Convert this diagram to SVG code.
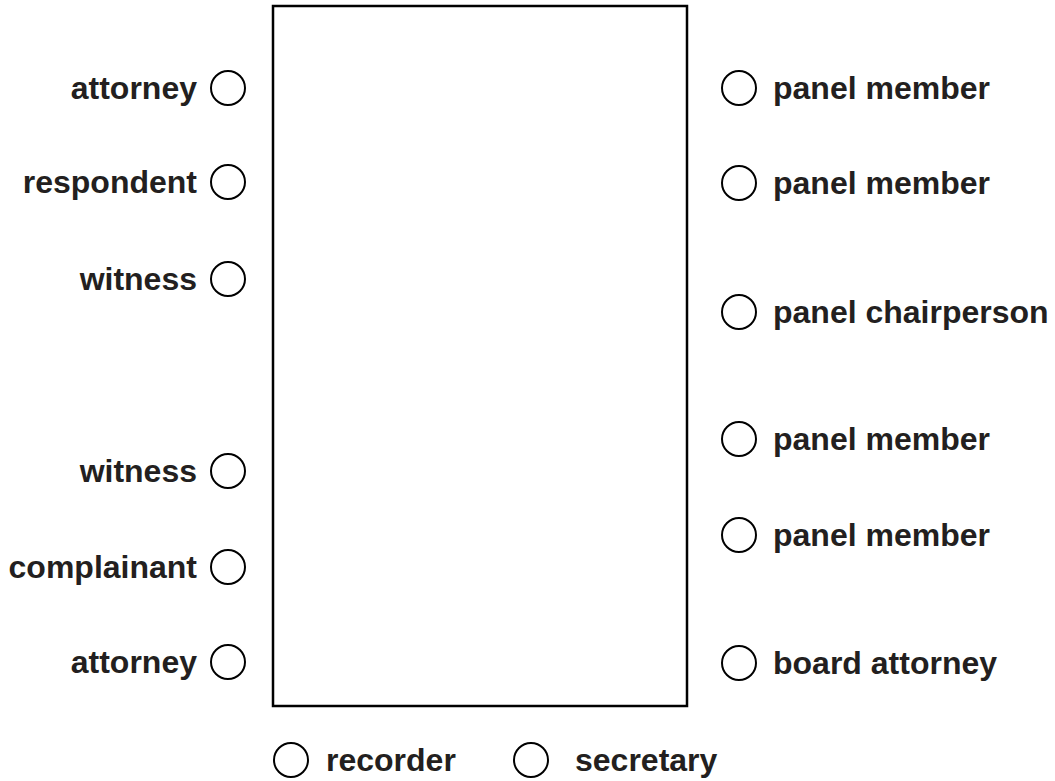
<svg xmlns="http://www.w3.org/2000/svg" width="1055" height="781" viewBox="0 0 1055 781">
<style>
.seat{fill:none;stroke:#000;stroke-width:2}
.lbl{font-family:"Liberation Sans",Arial,Helvetica,sans-serif;font-weight:bold;font-size:32px;fill:#231f20}
.l{text-anchor:end}
</style>
<rect width="1055" height="781" fill="#fff"/>
<g id="table"><rect x="273" y="6" width="414" height="700" fill="none" stroke="#000" stroke-width="2.5"/></g>
<g id="connectors"/>
<g id="attorney-left-1"><circle class="seat" cx="228" cy="88" r="17"/><text class="lbl l" x="197" y="99">attorney</text></g>
<g id="respondent"><circle class="seat" cx="228" cy="182" r="17"/><text class="lbl l" x="197" y="193">respondent</text></g>
<g id="witness-1"><circle class="seat" cx="228" cy="279" r="17"/><text class="lbl l" x="197" y="290">witness</text></g>
<g id="witness-2"><circle class="seat" cx="228" cy="471" r="17"/><text class="lbl l" x="197" y="482">witness</text></g>
<g id="complainant"><circle class="seat" cx="228" cy="567" r="17"/><text class="lbl l" x="197" y="578">complainant</text></g>
<g id="attorney-left-2"><circle class="seat" cx="228" cy="662" r="17"/><text class="lbl l" x="197" y="673">attorney</text></g>
<g id="panel-member-1"><circle class="seat" cx="739" cy="88" r="17"/><text class="lbl" x="773" y="99">panel member</text></g>
<g id="panel-member-2"><circle class="seat" cx="739" cy="183" r="17"/><text class="lbl" x="773" y="194">panel member</text></g>
<g id="panel-chairperson"><circle class="seat" cx="739" cy="312" r="17"/><text class="lbl" x="773" y="323">panel chairperson</text></g>
<g id="panel-member-3"><circle class="seat" cx="739" cy="439" r="17"/><text class="lbl" x="773" y="450">panel member</text></g>
<g id="panel-member-4"><circle class="seat" cx="739" cy="535" r="17"/><text class="lbl" x="773" y="546">panel member</text></g>
<g id="board-attorney"><circle class="seat" cx="739" cy="663" r="17"/><text class="lbl" x="773" y="674">board attorney</text></g>
<g id="recorder"><circle class="seat" cx="291" cy="760" r="17"/><text class="lbl" x="326" y="771">recorder</text></g>
<g id="secretary"><circle class="seat" cx="531" cy="760" r="17"/><text class="lbl" x="575" y="771">secretary</text></g>
</svg>
